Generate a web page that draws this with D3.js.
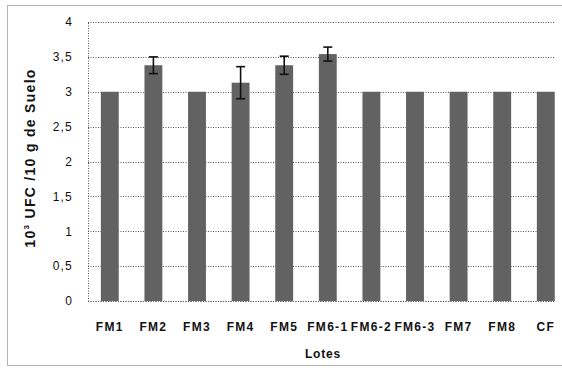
<!DOCTYPE html>
<html><head><meta charset="utf-8">
<script src="https://cdn.jsdelivr.net/npm/d3@7"></script>
<style>body{margin:0;background:#fff}svg{display:block}</style>
</head><body>
<script>
const categories = ["FM1","FM2","FM3","FM4","FM5","FM6-1","FM6-2","FM6-3","FM7","FM8","CF"];
const values = [3, 3.38, 3, 3.13, 3.38, 3.54, 3, 3, 3, 3, 3];
const errors = [0, 0.12, 0, 0.23, 0.13, 0.1, 0, 0, 0, 0, 0];
const yTicks = [0, 0.5, 1, 1.5, 2, 2.5, 3, 3.5, 4];
const yTickLabels = ["0","0,5","1","1,5","2","2,5","3","3,5","4"];
const xTitle = "Lotes";

(function () {
const W = 562, H = 368;
const FONT = "Liberation Sans, Arial, sans-serif";
const svg = d3.select("body").append("svg").attr("width", W).attr("height", H);

// outer frame
svg.append("rect").attr("x", 7.5).attr("y", 5.5).attr("width", 600).attr("height", 360)
  .attr("fill", "none").attr("stroke", "#666").attr("stroke-dasharray", "1,1");

const pLeft = 88, pTop = 22, pBottom = 301, gridRight = 554;
const x = d3.scaleBand().domain(categories).range([pLeft, pLeft + 11 * 43.6]).paddingInner(0.59).paddingOuter(0.295);
const y = d3.scaleLinear().domain([0, 4]).range([pBottom, pTop]);

// gridlines
svg.append("g").selectAll("line").data(yTicks).join("line")
  .attr("x1", pLeft).attr("x2", gridRight)
  .attr("y1", d => Math.round(y(d)) + 0.5).attr("y2", d => Math.round(y(d)) + 0.5)
  .attr("stroke", "#555").attr("stroke-dasharray", "1,1.5");

// y axis
const yAxis = d3.axisLeft(y).tickValues(yTicks).tickFormat((d, i) => yTickLabels[i]).tickSize(0).tickPadding(15);
const gy = svg.append("g").attr("transform", `translate(${pLeft},0)`).call(yAxis);
gy.select(".domain").attr("stroke", "#555").attr("stroke-dasharray", "1,1.5");
gy.selectAll("text").attr("font-family", FONT).attr("font-size", 12).attr("letter-spacing", 1.2).attr("fill", "#111");

// bars
svg.append("g").selectAll("rect").data(values).join("rect")
  .attr("x", (d, i) => x(categories[i]))
  .attr("y", d => y(d))
  .attr("width", x.bandwidth())
  .attr("height", d => pBottom - y(d))
  .attr("fill", "#626262");

// error bars
const eg = svg.append("g").attr("stroke", "#111").attr("stroke-width", 1.6);
values.forEach((v, i) => {
  if (!errors[i]) return;
  const cx = x(categories[i]) + x.bandwidth() / 2;
  eg.append("line").attr("x1", cx).attr("x2", cx).attr("y1", y(v + errors[i])).attr("y2", y(v - errors[i]));
  eg.append("line").attr("x1", cx - 4.5).attr("x2", cx + 4.5).attr("y1", y(v + errors[i])).attr("y2", y(v + errors[i]));
  eg.append("line").attr("x1", cx - 4.5).attr("x2", cx + 4.5).attr("y1", y(v - errors[i])).attr("y2", y(v - errors[i]));
});

// x axis
const xAxis = d3.axisBottom(x).tickSize(0).tickPadding(21);
const gx = svg.append("g").attr("transform", `translate(0,${pBottom})`).call(xAxis);
gx.select(".domain").remove();
svg.append("line").attr("x1", pLeft).attr("x2", gridRight).attr("y1", pBottom + 0.5).attr("y2", pBottom + 0.5)
  .attr("stroke", "#555").attr("stroke-dasharray", "1,1.5");
gx.selectAll("text").attr("font-family", FONT).attr("font-size", 12).attr("font-weight", "bold")
  .attr("letter-spacing", 1.3).attr("fill", "#111");

// x title
svg.append("text").attr("x", 323).attr("y", 358).attr("text-anchor", "middle")
  .attr("font-family", FONT).attr("font-size", 12).attr("font-weight", "bold").attr("letter-spacing", 0.8)
  .attr("fill", "#111").text(xTitle);

// y title
const yt = svg.append("text").attr("transform", "translate(35,158) rotate(-90)").attr("text-anchor", "middle")
  .attr("font-family", FONT).attr("font-size", 14).attr("font-weight", "bold").attr("letter-spacing", 1.3).attr("fill", "#111");
yt.append("tspan").text("10");
yt.append("tspan").attr("font-size", 8).attr("dy", -6).text("3");
yt.append("tspan").attr("dy", 6).text(" UFC /10 g de Suelo");
})();
</script>
</body></html>
